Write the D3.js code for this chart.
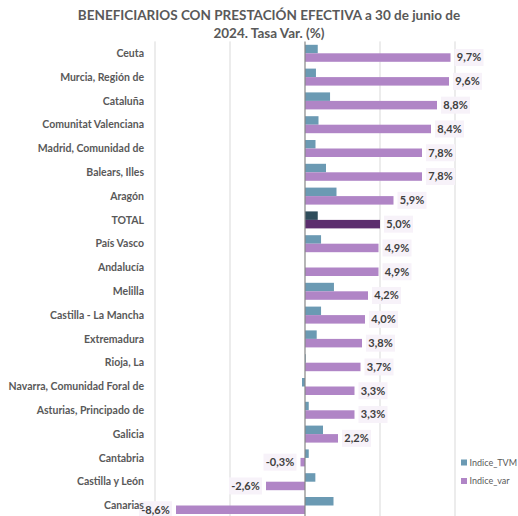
<!DOCTYPE html>
<html>
<head>
<meta charset="utf-8">
<script src="https://cdn.jsdelivr.net/npm/d3@7"></script>
<style>
  body { margin: 0; background: #fff; }
  svg text { font-family: Lato, "Open Sans", sans-serif; }
</style>
</head>
<body>
<div id="chart"></div>
<script>
// categories, top to bottom
let regions = ["Ceuta", "Murcia, Región de", "Cataluña", "Comunitat Valenciana", "Madrid, Comunidad de",
  "Balears, Illes", "Aragón", "TOTAL", "País Vasco", "Andalucía", "Melilla", "Castilla - La Mancha",
  "Extremadura", "Rioja, La", "Navarra, Comunidad Foral de", "Asturias, Principado de", "Galicia",
  "Cantabria", "Castilla y León", "Canarias"];

// Indice_TVM
let tvm = [0.85, 0.73, 1.67, 0.9, 0.7, 1.4, 2.1, 0.85, 1.07, 0.0, 1.93, 1.07, 0.78, 0.05, -0.2, 0.25, 1.2, 0.25, 0.69, 1.9];

// Indice_var (data labels)
let varRate = [9.7, 9.6, 8.8, 8.4, 7.8, 7.8, 5.9, 5.0, 4.9, 4.9, 4.2, 4.0, 3.8, 3.7, 3.3, 3.3, 2.2, -0.3, -2.6, -8.6];

let series = ["Indice_TVM", "Indice_var"];
let gridTicks = [-10, -5, 0, 5, 10];

let width = 518,
    height = 516,
    margin = {top: 41.4, left: 155, right: 63};

let colors = {Indice_TVM: "#6b9ab3", Indice_var: "#b085c6"};
let totalColors = {Indice_TVM: "#2f4d5b", Indice_var: "#5c2e6e"};

let data = regions.map(function (r, i) {
    return {region: r, Indice_TVM: tvm[i], Indice_var: varRate[i]};
});

let svg = d3.select("#chart").append("svg")
    .attr("width", width)
    .attr("height", height);

let x = d3.scaleLinear()
    .domain([-10, 10])
    .range([margin.left, width - margin.right]);

let y = d3.scaleBand()
    .domain(regions)
    .range([margin.top, margin.top + 23.8 * regions.length])
    .paddingInner(0)
    .paddingOuter(0);

let ySub = d3.scaleBand()
    .domain(series)
    .range([0, y.bandwidth()])
    .paddingInner(0)
    .paddingOuter(0.4);

// title
let title = svg.append("text")
    .attr("text-anchor", "middle")
    .attr("fill", "#595959")
    .style("font-size", "13.5px")
    .style("font-weight", "bold");
title.append("tspan").attr("x", 269).attr("y", 20)
    .text("BENEFICIARIOS CON PRESTACIÓN EFECTIVA a 30 de junio de");
title.append("tspan").attr("x", 269).attr("y", 38)
    .text("2024. Tasa Var. (%)");

// gridlines
svg.append("g")
    .selectAll("line")
    .data(gridTicks.filter(function (d) { return d !== 0; }))
    .join("line")
    .attr("x1", function (d) { return x(d); })
    .attr("x2", function (d) { return x(d); })
    .attr("y1", margin.top)
    .attr("y2", height)
    .attr("stroke", "#d9d9d9")
    .attr("stroke-width", 1);

// bars
let groups = svg.append("g")
    .selectAll("g")
    .data(data)
    .join("g")
    .attr("transform", function (d) { return "translate(0," + y(d.region) + ")"; });

groups.selectAll("rect")
    .data(function (d) {
        return series.map(function (s) { return {key: s, value: d[s], region: d.region}; });
    })
    .join("rect")
    .attr("x", function (d) { return x(Math.min(0, d.value)); })
    .attr("width", function (d) { return Math.abs(x(d.value) - x(0)); })
    .attr("y", function (d) { return ySub(d.key); })
    .attr("height", ySub.bandwidth())
    .attr("fill", function (d) {
        return d.region === "TOTAL" ? totalColors[d.key] : colors[d.key];
    });

// zero axis
svg.append("line")
    .attr("x1", x(0))
    .attr("x2", x(0))
    .attr("y1", margin.top)
    .attr("y2", height)
    .attr("stroke", "#868686")
    .attr("stroke-width", 1.2);

// data labels for Indice_var
let fmt = function (v) { return v.toFixed(1).replace(".", ",") + "%"; };
let labels = svg.append("g")
    .selectAll("g")
    .data(data)
    .join("g")
    .attr("transform", function (d) {
        let cy = y(d.region) + ySub("Indice_var") + ySub.bandwidth() / 2;
        let bx = d.Indice_var >= 0 ? x(d.Indice_var) + 4 : x(d.Indice_var) - 4 - 33;
        return "translate(" + bx + "," + cy + ")";
    });

labels.append("rect")
    .attr("x", 0)
    .attr("y", -8.5)
    .attr("width", function (d) { return d.Indice_var >= 0 ? 29 : 33; })
    .attr("height", 17)
    .attr("fill", "#f7f2f9");

labels.append("text")
    .attr("x", function (d) { return d.Indice_var >= 0 ? 14.5 : 16.5; })
    .attr("dy", "0.35em")
    .attr("text-anchor", "middle")
    .attr("fill", "#404040")
    .style("font-size", "11px")
    .style("font-weight", "bold")
    .text(function (d) { return fmt(d.Indice_var); });

// category labels (drawn on top of the data labels)
svg.append("g")
    .selectAll("text")
    .data(regions)
    .join("text")
    .attr("x", 144)
    .attr("y", function (d) { return y(d) + y.bandwidth() / 2; })
    .attr("dy", "0.35em")
    .attr("text-anchor", "end")
    .attr("fill", "#595959")
    .style("font-size", "10.5px")
    .style("font-weight", "bold")
    .text(function (d) { return d; });

// legend
let legend = svg.append("g")
    .selectAll("g")
    .data(series)
    .join("g")
    .attr("transform", function (d, i) { return "translate(461," + (462.5 + i * 18.5) + ")"; });

legend.append("rect")
    .attr("x", 0)
    .attr("y", -3)
    .attr("width", 6)
    .attr("height", 6)
    .attr("fill", function (d) { return colors[d]; });

legend.append("text")
    .attr("x", 8.5)
    .attr("dy", "0.35em")
    .attr("fill", "#595959")
    .style("font-size", "9px")
    .text(function (d) { return d; });
</script>
</body>
</html>
